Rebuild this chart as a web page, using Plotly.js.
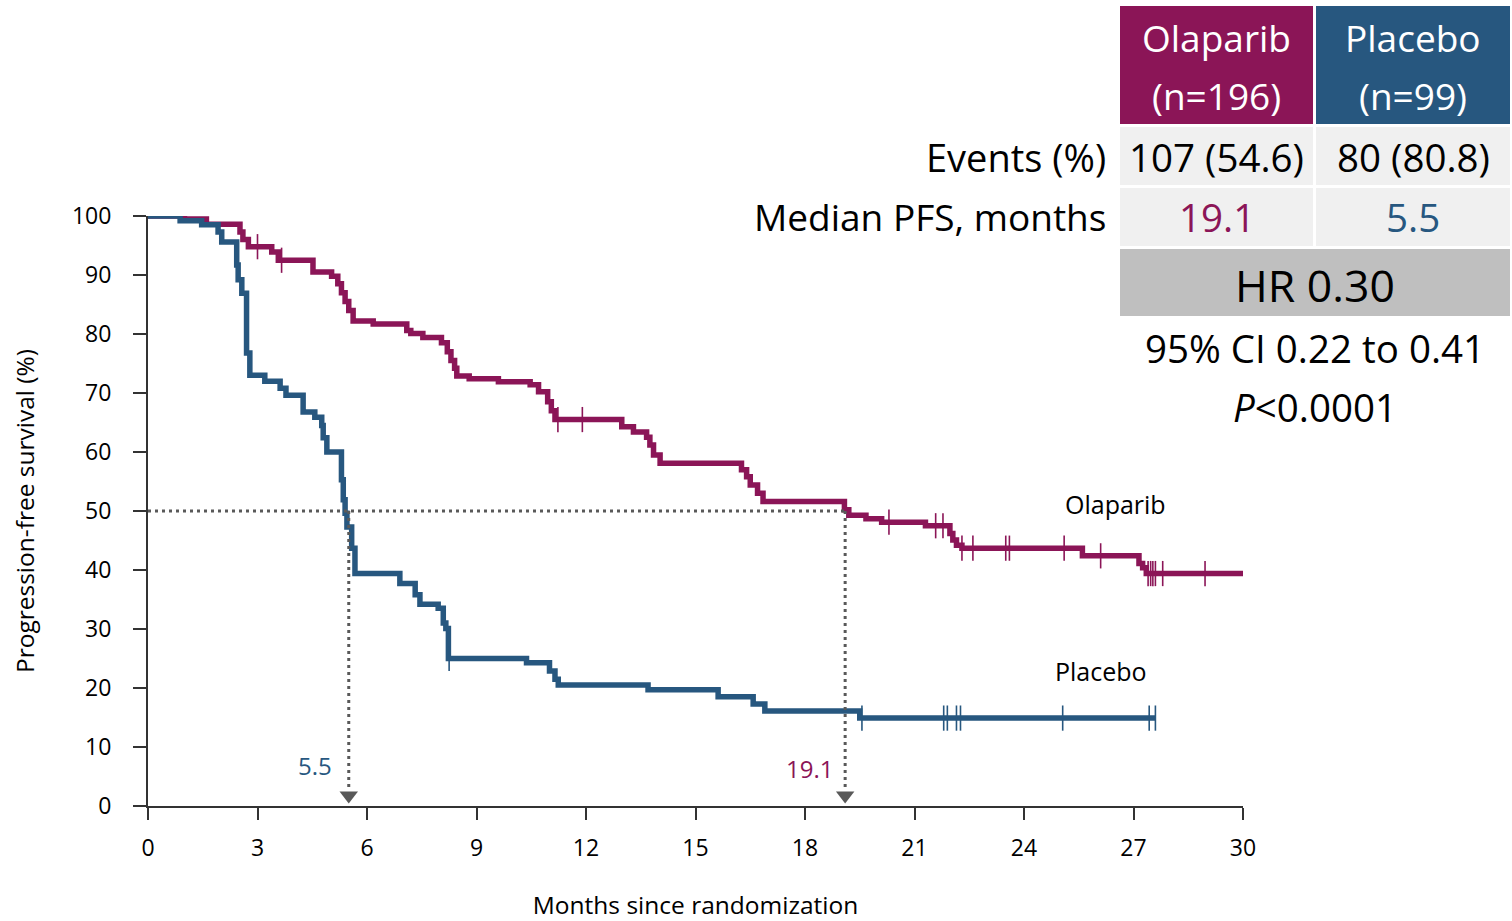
<!DOCTYPE html>
<html>
<head>
<meta charset="utf-8">
<script src="https://cdn.plot.ly/plotly-3.0.1.min.js"></script>
<style>html,body{margin:0;padding:0;background:#fff;}#chart{width:1512px;height:921px;}</style>
</head>
<body>
<div id="chart"></div>
<script>
// ---------- DATA ----------
const olaTimes = [0, 1.0, 1.6, 2.52, 2.6, 2.75, 3.39, 3.57, 4.52, 5.03, 5.2, 5.3, 5.4, 5.5, 5.62, 6.17, 7.09, 7.2, 7.53, 8.04, 8.2, 8.3, 8.4, 8.46, 8.8, 9.6, 10.47, 10.7, 10.95, 11.05, 11.15, 12.98, 13.3, 13.66, 13.75, 13.85, 14.03, 16.26, 16.4, 16.5, 16.7, 16.85, 19.08, 19.2, 19.67, 20.1, 21.3, 21.97, 22.05, 22.15, 22.3, 25.6, 27.15, 27.25, 27.35, 30];
const olaSurv  = [100, 99.5, 98.6, 97.3, 96.0, 94.8, 93.9, 92.5, 90.5, 89.8, 88.5, 87.0, 85.5, 84.0, 82.2, 81.7, 80.6, 80.1, 79.4, 78.5, 77.0, 75.5, 74.2, 72.9, 72.4, 71.9, 71.4, 70.2, 68.5, 67.0, 65.5, 64.3, 63.4, 62.5, 61.2, 59.5, 58.1, 57.0, 55.8, 54.4, 53.0, 51.6, 50.2, 49.3, 48.7, 48.1, 47.5, 46.2, 45.1, 44.2, 43.7, 42.4, 41.1, 40.4, 39.4, 39.4];
const olaCensor = [3.0, 3.66, 11.23, 11.9, 20.3, 21.58, 21.78, 22.3, 22.6, 23.5, 23.6, 25.1, 26.1, 27.4, 27.47, 27.53, 27.6, 27.8, 28.96];

const plaTimes = [0, 0.88, 1.47, 1.92, 2.02, 2.43, 2.47, 2.57, 2.7, 2.79, 3.2, 3.62, 3.78, 4.25, 4.57, 4.76, 4.8, 4.9, 5.3, 5.35, 5.4, 5.45, 5.58, 5.67, 6.9, 7.32, 7.45, 7.95, 8.09, 8.16, 8.23, 10.37, 11.0, 11.15, 11.24, 13.7, 15.62, 16.58, 16.9, 19.5, 27.6];
const plaSurv  = [100, 99.2, 98.5, 97.3, 95.6, 91.7, 89.2, 86.9, 76.8, 73.0, 72.0, 70.8, 69.6, 66.8, 65.9, 64.5, 62.4, 60.0, 55.3, 51.9, 49.6, 47.3, 43.7, 39.4, 37.7, 35.8, 34.2, 33.5, 31.0, 30.1, 25.0, 24.3, 22.9, 21.5, 20.5, 19.7, 18.5, 17.3, 16.1, 14.9, 14.9];
const plaCensor = [8.25, 19.56, 21.8, 21.9, 22.15, 22.26, 25.06, 27.43, 27.6];

const seriesNames = ['Olaparib', 'Placebo'];
const nLabels = ['(n=196)', '(n=99)'];
const eventsLabels = ['107 (54.6)', '80 (80.8)'];
const medianPFS = [19.1, 5.5];
const rowLabels = ['Events (%)', 'Median PFS, months'];
const hrText = 'HR 0.30';
const ciText = '95% CI 0.22 to 0.41';
const pText = '<i>P</i>&lt;0.0001';
const xTicks = [0, 3, 6, 9, 12, 15, 18, 21, 24, 27, 30];
const yTicks = [0, 10, 20, 30, 40, 50, 60, 70, 80, 90, 100];

// ---------- STYLE ----------
const PURPLE = '#8B1557';
const BLUE = '#27577F';
const GREY = '#595959';
const FONT = 'Open Sans, Noto Sans, Liberation Sans, sans-serif';

function survAt(times, surv, t) {
  let v = surv[0];
  for (let i = 0; i < times.length; i++) { if (times[i] <= t) v = surv[i]; else break; }
  return v;
}

const traces = [
  {x: olaTimes, y: olaSurv, mode: 'lines', line: {shape: 'hv', color: PURPLE, width: 5.5}, cliponaxis: false, hoverinfo: 'skip'},
  {x: olaCensor, y: olaCensor.map(t => survAt(olaTimes, olaSurv, t)), mode: 'markers', cliponaxis: false,
   marker: {symbol: 'line-ns', size: 18, line: {color: PURPLE, width: 1.6}}, hoverinfo: 'skip'},
  {x: plaTimes, y: plaSurv, mode: 'lines', line: {shape: 'hv', color: BLUE, width: 5.5}, cliponaxis: false, hoverinfo: 'skip'},
  {x: plaCensor, y: plaCensor.map(t => survAt(plaTimes, plaSurv, t)), mode: 'markers', cliponaxis: false,
   marker: {symbol: 'line-ns', size: 18, line: {color: BLUE, width: 1.6}}, hoverinfo: 'skip'},
  // median arrows
  {x: medianPFS, y: medianPFS.map(() => 1.8), mode: 'markers', cliponaxis: false,
   marker: {symbol: 'triangle-down', size: 16, color: GREY}, hoverinfo: 'skip'}
];

// pixel -> paper helpers for the summary table
const L = 148, R = 1243, T = 216, B = 806;
const px = x => (x - L) / (R - L);
const py = y => (B - y) / (B - T);

const shapes = [];
const annotations = [];

// median dotted lines
const maxMed = Math.max(...medianPFS);
shapes.push({type: 'line', xref: 'x', yref: 'y', x0: 0, x1: maxMed, y0: 50, y1: 50,
  line: {color: GREY, width: 3, dash: '3px,4px'}});
medianPFS.forEach(m => {
  shapes.push({type: 'line', xref: 'x', yref: 'y', x0: m, x1: m, y0: 50, y1: 3.2,
    line: {color: GREY, width: 3, dash: '3px,4px'}});
});
// median labels
annotations.push({x: medianPFS[1], y: 6.8, xref: 'x', yref: 'y', text: String(medianPFS[1]), showarrow: false,
  xanchor: 'right', xshift: -15, font: {family: FONT, size: 24, color: BLUE}});
annotations.push({x: medianPFS[0], y: 6.3, xref: 'x', yref: 'y', text: String(medianPFS[0]), showarrow: false,
  xanchor: 'right', xshift: -10, font: {family: FONT, size: 24, color: PURPLE}});
// curve labels
annotations.push({x: 26.5, y: 51.2, xref: 'x', yref: 'y', text: seriesNames[0], showarrow: false,
  font: {family: FONT, size: 25, color: '#000'}});
annotations.push({x: 26.1, y: 22.8, xref: 'x', yref: 'y', text: seriesNames[1], showarrow: false,
  font: {family: FONT, size: 25, color: '#000'}});

// table cells
const colX = [[1120, 1313], [1316, 1510]];
const headerColors = [PURPLE, BLUE];
function rect(x0, x1, y0, y1, color) {
  shapes.push({type: 'rect', xref: 'paper', yref: 'paper', x0: px(x0), x1: px(x1), y0: py(y1), y1: py(y0),
    fillcolor: color, line: {width: 0}, layer: 'below'});
}
function txt(x, y, text, size, color, anchor) {
  annotations.push({xref: 'paper', yref: 'paper', x: px(x), y: py(y), text: text, showarrow: false,
    xanchor: anchor || 'center', yanchor: 'middle', font: {family: FONT, size: size, color: color}});
}
colX.forEach((c, i) => {
  rect(c[0], c[1], 6, 124, headerColors[i]);
  rect(c[0], c[1], 127, 185, '#F0F0F0');
  rect(c[0], c[1], 188, 246, '#F0F0F0');
  const cx = (c[0] + c[1]) / 2;
  txt(cx, 37, seriesNames[i], 37, '#fff');
  txt(cx, 95, nLabels[i], 37, '#fff');
  txt(cx, 157, eventsLabels[i], 38.5, '#000');
  txt(cx, 217, String(medianPFS[i]), 38.5, headerColors[i]);
});
rect(1120, 1510, 249, 316, '#BFBFBF');
txt(1315, 284, hrText, 44.5, '#000');
txt(1315, 348, ciText, 38.5, '#000');
txt(1315, 407, pText, 38.5, '#000');
txt(1108, 157, rowLabels[0], 38, '#000', 'right');
txt(1108, 217, rowLabels[1], 37, '#000', 'right');

const layout = {
  width: 1512, height: 921,
  margin: {l: L, r: 1512 - R, t: T, b: 921 - B, pad: 0},
  paper_bgcolor: '#fff', plot_bgcolor: '#fff',
  showlegend: false,
  font: {family: FONT, size: 23, color: '#000'},
  xaxis: {range: [0, 30], tickvals: xTicks, ticktext: xTicks.map(String), ticks: 'outside', ticklen: 12, tickwidth: 2,
    tickcolor: '#333', showline: true, linewidth: 2, linecolor: '#333', showgrid: false, zeroline: false,
    ticklabelstandoff: 8, tickfont: {family: FONT, size: 23, color: '#000'},
    title: {text: 'Months since randomization', font: {family: FONT, size: 24.5, color: '#000'}, standoff: 39}},
  yaxis: {range: [0, 100], tickvals: yTicks, ticktext: yTicks.map(String), ticks: 'outside', ticklen: 13, tickwidth: 2,
    tickcolor: '#333', showline: true, linewidth: 2, linecolor: '#333', showgrid: false, zeroline: false,
    ticklabelstandoff: 17, tickfont: {family: FONT, size: 23, color: '#000'},
    title: {text: 'Progression-free survival (%)', font: {family: FONT, size: 24.5, color: '#000'}, standoff: 30}},
  shapes: shapes,
  annotations: annotations
};

Plotly.newPlot('chart', traces, layout, {displayModeBar: false, staticPlot: true});
</script>
</body>
</html>
